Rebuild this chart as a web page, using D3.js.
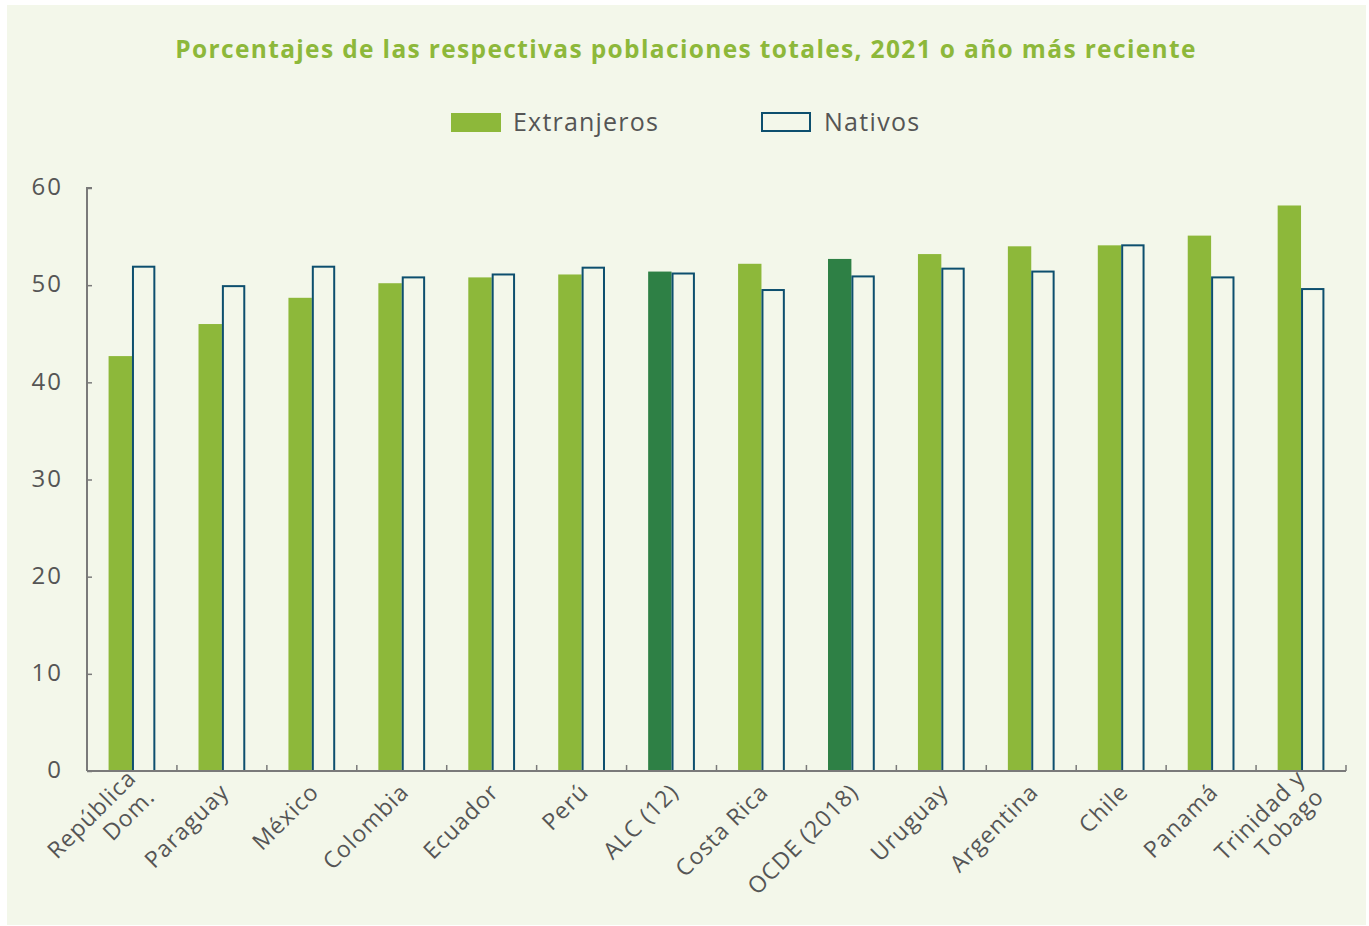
<!DOCTYPE html>
<html>
<head>
<meta charset="utf-8">
<script src="https://cdn.jsdelivr.net/npm/d3@7"></script>
<style>
  html, body { margin: 0; padding: 0; background: #ffffff; }
  svg { display: block; }
  text { font-family: "Open Sans", "Noto Sans", sans-serif; }
</style>
</head>
<body>
<svg id="chart" width="1369" height="926"></svg>
<script>
// Categories (lines split where the label wraps)
const categories = [
  "República\nDom.", "Paraguay", "México", "Colombia", "Ecuador", "Perú",
  "ALC (12)", "Costa Rica", "OCDE (2018)", "Uruguay", "Argentina", "Chile",
  "Panamá", "Trinidad y\nTobago"
];
// Aggregates drawn in a darker green
const aggregates = ["ALC (12)", "OCDE (2018)"];

const extranjeros = [42.7, 46.0, 48.7, 50.2, 50.8, 51.1, 51.4, 52.2, 52.7, 53.2, 54.0, 54.1, 55.1, 58.2];
const nativos     = [51.9, 49.9, 51.9, 50.8, 51.1, 51.8, 51.2, 49.5, 50.9, 51.7, 51.4, 54.1, 50.8, 49.6];

const yTicks = [0, 10, 20, 30, 40, 50, 60];
const seriesNames = ["Extranjeros", "Nativos"];

const title = "Porcentajes de las respectivas poblaciones totales, 2021 o año más reciente";

const colors = {
  bg: "#f3f7ea",
  green: "#8db83a",
  darkGreen: "#2e8045",
  navy: "#0d4f6e",
  axis: "#7a7a7a",
  text: "#555555",
  title: "#8db83a"
};

const svg = d3.select("#chart");

// Panel
svg.append("rect")
  .attr("x", 7).attr("y", 5).attr("width", 1359).attr("height", 920)
  .attr("fill", colors.bg);

// Title
svg.append("text")
  .attr("x", 686).attr("y", 58)
  .attr("text-anchor", "middle")
  .attr("font-size", 24.5).attr("font-weight", 700)
  .attr("letter-spacing", 1.35)
  .attr("fill", colors.title)
  .text(title);

// Legend
const legend = svg.append("g");
legend.append("rect").attr("x", 451).attr("y", 113).attr("width", 50).attr("height", 19)
  .attr("fill", colors.green);
legend.append("text").attr("x", 513).attr("y", 131).attr("font-size", 25)
  .attr("letter-spacing", 1.2)
  .attr("fill", colors.text).text(seriesNames[0]);
legend.append("rect").attr("x", 762).attr("y", 113).attr("width", 48).attr("height", 18)
  .attr("fill", colors.bg).attr("stroke", colors.navy).attr("stroke-width", 2);
legend.append("text").attr("x", 824).attr("y", 131).attr("font-size", 25)
  .attr("letter-spacing", 1.3)
  .attr("fill", colors.text).text(seriesNames[1]);

// Scales
const plot = { left: 87, right: 1346, top: 188, bottom: 771 };

const x0 = d3.scaleBand()
  .domain(categories)
  .range([plot.left, plot.right])
  .paddingInner(0.48)
  .paddingOuter(0.24);

const x1 = d3.scaleBand()
  .domain(seriesNames)
  .range([0, x0.bandwidth()]);

const y = d3.scaleLinear().domain([0, 60]).range([plot.bottom, plot.top]);

// Bars
const groups = svg.append("g").selectAll("g")
  .data(categories)
  .join("g")
  .attr("transform", d => `translate(${x0(d)},0)`);

groups.append("rect")
  .attr("x", x1("Extranjeros"))
  .attr("y", (d, i) => y(extranjeros[i]))
  .attr("width", x1.bandwidth())
  .attr("height", (d, i) => y(0) - y(extranjeros[i]))
  .attr("fill", d => aggregates.includes(d) ? colors.darkGreen : colors.green);

groups.append("rect")
  .attr("x", x1("Nativos") + 1)
  .attr("y", (d, i) => y(nativos[i]))
  .attr("width", x1.bandwidth() - 2)
  .attr("height", (d, i) => y(0) - y(nativos[i]))
  .attr("fill", colors.bg)
  .attr("stroke", colors.navy)
  .attr("stroke-width", 2);

// Y axis
const yAxis = svg.append("g")
  .attr("transform", `translate(${plot.left},0)`)
  .call(d3.axisRight(y).tickValues(yTicks).tickSize(5).tickFormat(d3.format("d")));
yAxis.select(".domain").attr("stroke", colors.axis).attr("stroke-width", 2)
  .attr("d", `M5,${plot.top}H0V${plot.bottom}`);
yAxis.selectAll(".tick line").attr("stroke", colors.axis).attr("stroke-width", 1.5);
yAxis.selectAll(".tick text")
  .attr("x", -24).attr("dy", "0.28em")
  .attr("text-anchor", "end")
  .attr("font-size", 24)
  .attr("letter-spacing", 2)
  .attr("font-family", "\"Open Sans\", sans-serif")
  .attr("fill", colors.text);

// X axis baseline with ticks at category boundaries
const step = x0.step();
const boundaries = d3.range(categories.length + 1).map(i => plot.left + i * step);
const xAxis = svg.append("g");
xAxis.append("line")
  .attr("x1", plot.left).attr("x2", plot.right)
  .attr("y1", plot.bottom).attr("y2", plot.bottom)
  .attr("stroke", colors.axis).attr("stroke-width", 2);
xAxis.selectAll("line.tick")
  .data(boundaries.slice(1))
  .join("line")
  .attr("class", "tick")
  .attr("x1", d => d).attr("x2", d => d)
  .attr("y1", plot.bottom).attr("y2", plot.bottom - 6)
  .attr("stroke", colors.axis).attr("stroke-width", 1.5);

// Rotated category labels
const labels = xAxis.selectAll("text.cat")
  .data(categories)
  .join("text")
  .attr("class", "cat")
  .attr("text-anchor", "end")
  .attr("font-size", 23)
  .attr("letter-spacing", 1)
  .attr("fill", colors.text)
  .attr("transform", d => {
    const wrapped = d.includes("\n");
    const dx = wrapped ? 8 : -3;
    return `translate(${x0(d) + x0.bandwidth() / 2 + dx},${plot.bottom + 11}) rotate(-45)`;
  });

labels.each(function(d) {
  const lines = d.split("\n");
  const t = d3.select(this);
  const first = lines.length === 1 ? 0.7 : -0.15;
  lines.forEach((line, i) => {
    t.append("tspan")
      .attr("x", 0)
      .attr("dy", i === 0 ? `${first}em` : "1.15em")
      .text(line);
  });
});
</script>
</body>
</html>
